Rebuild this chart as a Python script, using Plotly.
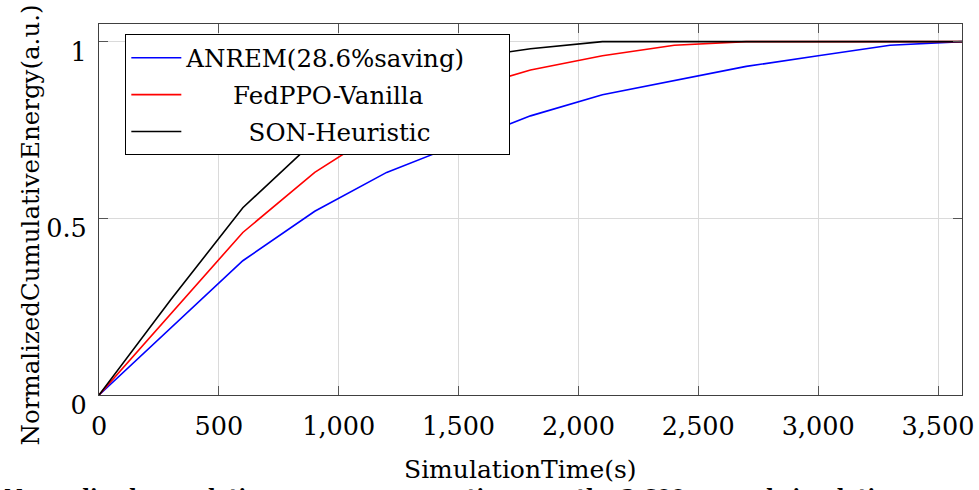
import plotly.graph_objects as go

time_s = [0, 300, 600, 900, 1200, 1500, 1800, 2100, 2400, 2700, 3000, 3300, 3600]
anrem = [0, 0.19, 0.38, 0.52, 0.63, 0.71, 0.79, 0.85, 0.89, 0.93, 0.96, 0.99, 1.0]
fedppo = [0, 0.23, 0.46, 0.63, 0.76, 0.86, 0.92, 0.96, 0.99, 1.0, 1.0, 1.0, 1.0]
son = [0, 0.27, 0.53, 0.72, 0.87, 0.95, 0.98, 1.0, 1.0, 1.0, 1.0, 1.0, 1.0]

series_names = ["ANREM(28.6%saving)", "FedPPO-Vanilla", "SON-Heuristic"]
series_colors = ["#0000ff", "#ff0000", "#000000"]
x_ticks = [0, 500, 1000, 1500, 2000, 2500, 3000, 3500]
x_tick_labels = ["0", "500", "1,000", "1,500", "2,000", "2,500", "3,000", "3,500"]
y_ticks = [0, 0.5, 1]
y_tick_labels = ["0", "0.5", "1"]

FONT = "DejaVu Serif"
NB = "\u00a0"
lead_pads = [0, 6, 8]
trail_pads = [5, 0, 0]

fig = go.Figure()
for i, (name, vals, col) in enumerate(zip(series_names, [anrem, fedppo, son], series_colors)):
    fig.add_trace(go.Scatter(
        x=time_s, y=vals, mode="lines",
        name=NB * lead_pads[i] + name + NB * trail_pads[i],
        line=dict(color=col, width=1.6), legendgroup=f"g{i}",
    ))

axis_common = dict(
    showgrid=True, gridcolor="#dadada", gridwidth=1,
    showline=True, linecolor="#404040", linewidth=1.3, mirror="allticks",
    ticks="inside", ticklen=9, tickcolor="#555555", tickwidth=1,
    zeroline=False, automargin=False,
    tickfont=dict(family=FONT, size=25.5, color="black"),
)

fig.update_xaxes(range=[0, 3600], tickvals=x_ticks, ticktext=x_tick_labels,
                 ticklabelstandoff=8, **axis_common)
fig.update_yaxes(range=[0, 1.05], tickvals=y_ticks, ticktext=y_tick_labels,
                 ticklabelstandoff=6, ticklabelshift=10, **axis_common)

fig.update_layout(
    width=979, height=490,
    margin=dict(l=99, r=17, t=24, b=95, autoexpand=False),
    plot_bgcolor="white", paper_bgcolor="white",
    font=dict(family=FONT, color="black"),
    showlegend=True,
    legend=dict(
        x=0.0305, y=0.972, xanchor="left", yanchor="top",
        bgcolor="white", bordercolor="black", borderwidth=1,
        font=dict(family=FONT, size=24.5, color="black"),
        tracegroupgap=2, itemwidth=50,
    ),
    annotations=[
        dict(text="SimulationTime(s)", xref="paper", yref="paper",
             x=0.488, y=-0.156, xanchor="center", yanchor="top", showarrow=False,
             font=dict(family=FONT, size=25, color="black")),
        dict(text="NormalizedCumulativeEnergy(a.u.)", xref="paper", yref="paper",
             x=-0.0795, y=0.458, xanchor="center", yanchor="middle", showarrow=False,
             textangle=-90, font=dict(family=FONT, size=24.5, color="black")),
        dict(text="<b>Normalized cumulative energy consumption over the 3,600-second simulation</b>",
             xref="paper", yref="paper", x=-0.112, y=-0.238, xanchor="left", yanchor="top",
             showarrow=False, font=dict(family=FONT, size=20.5, color="black")),
    ],
)

fig.write_html("out.html", config={"displayModeBar": False},
               post_script="document.body.style.margin='0';")
